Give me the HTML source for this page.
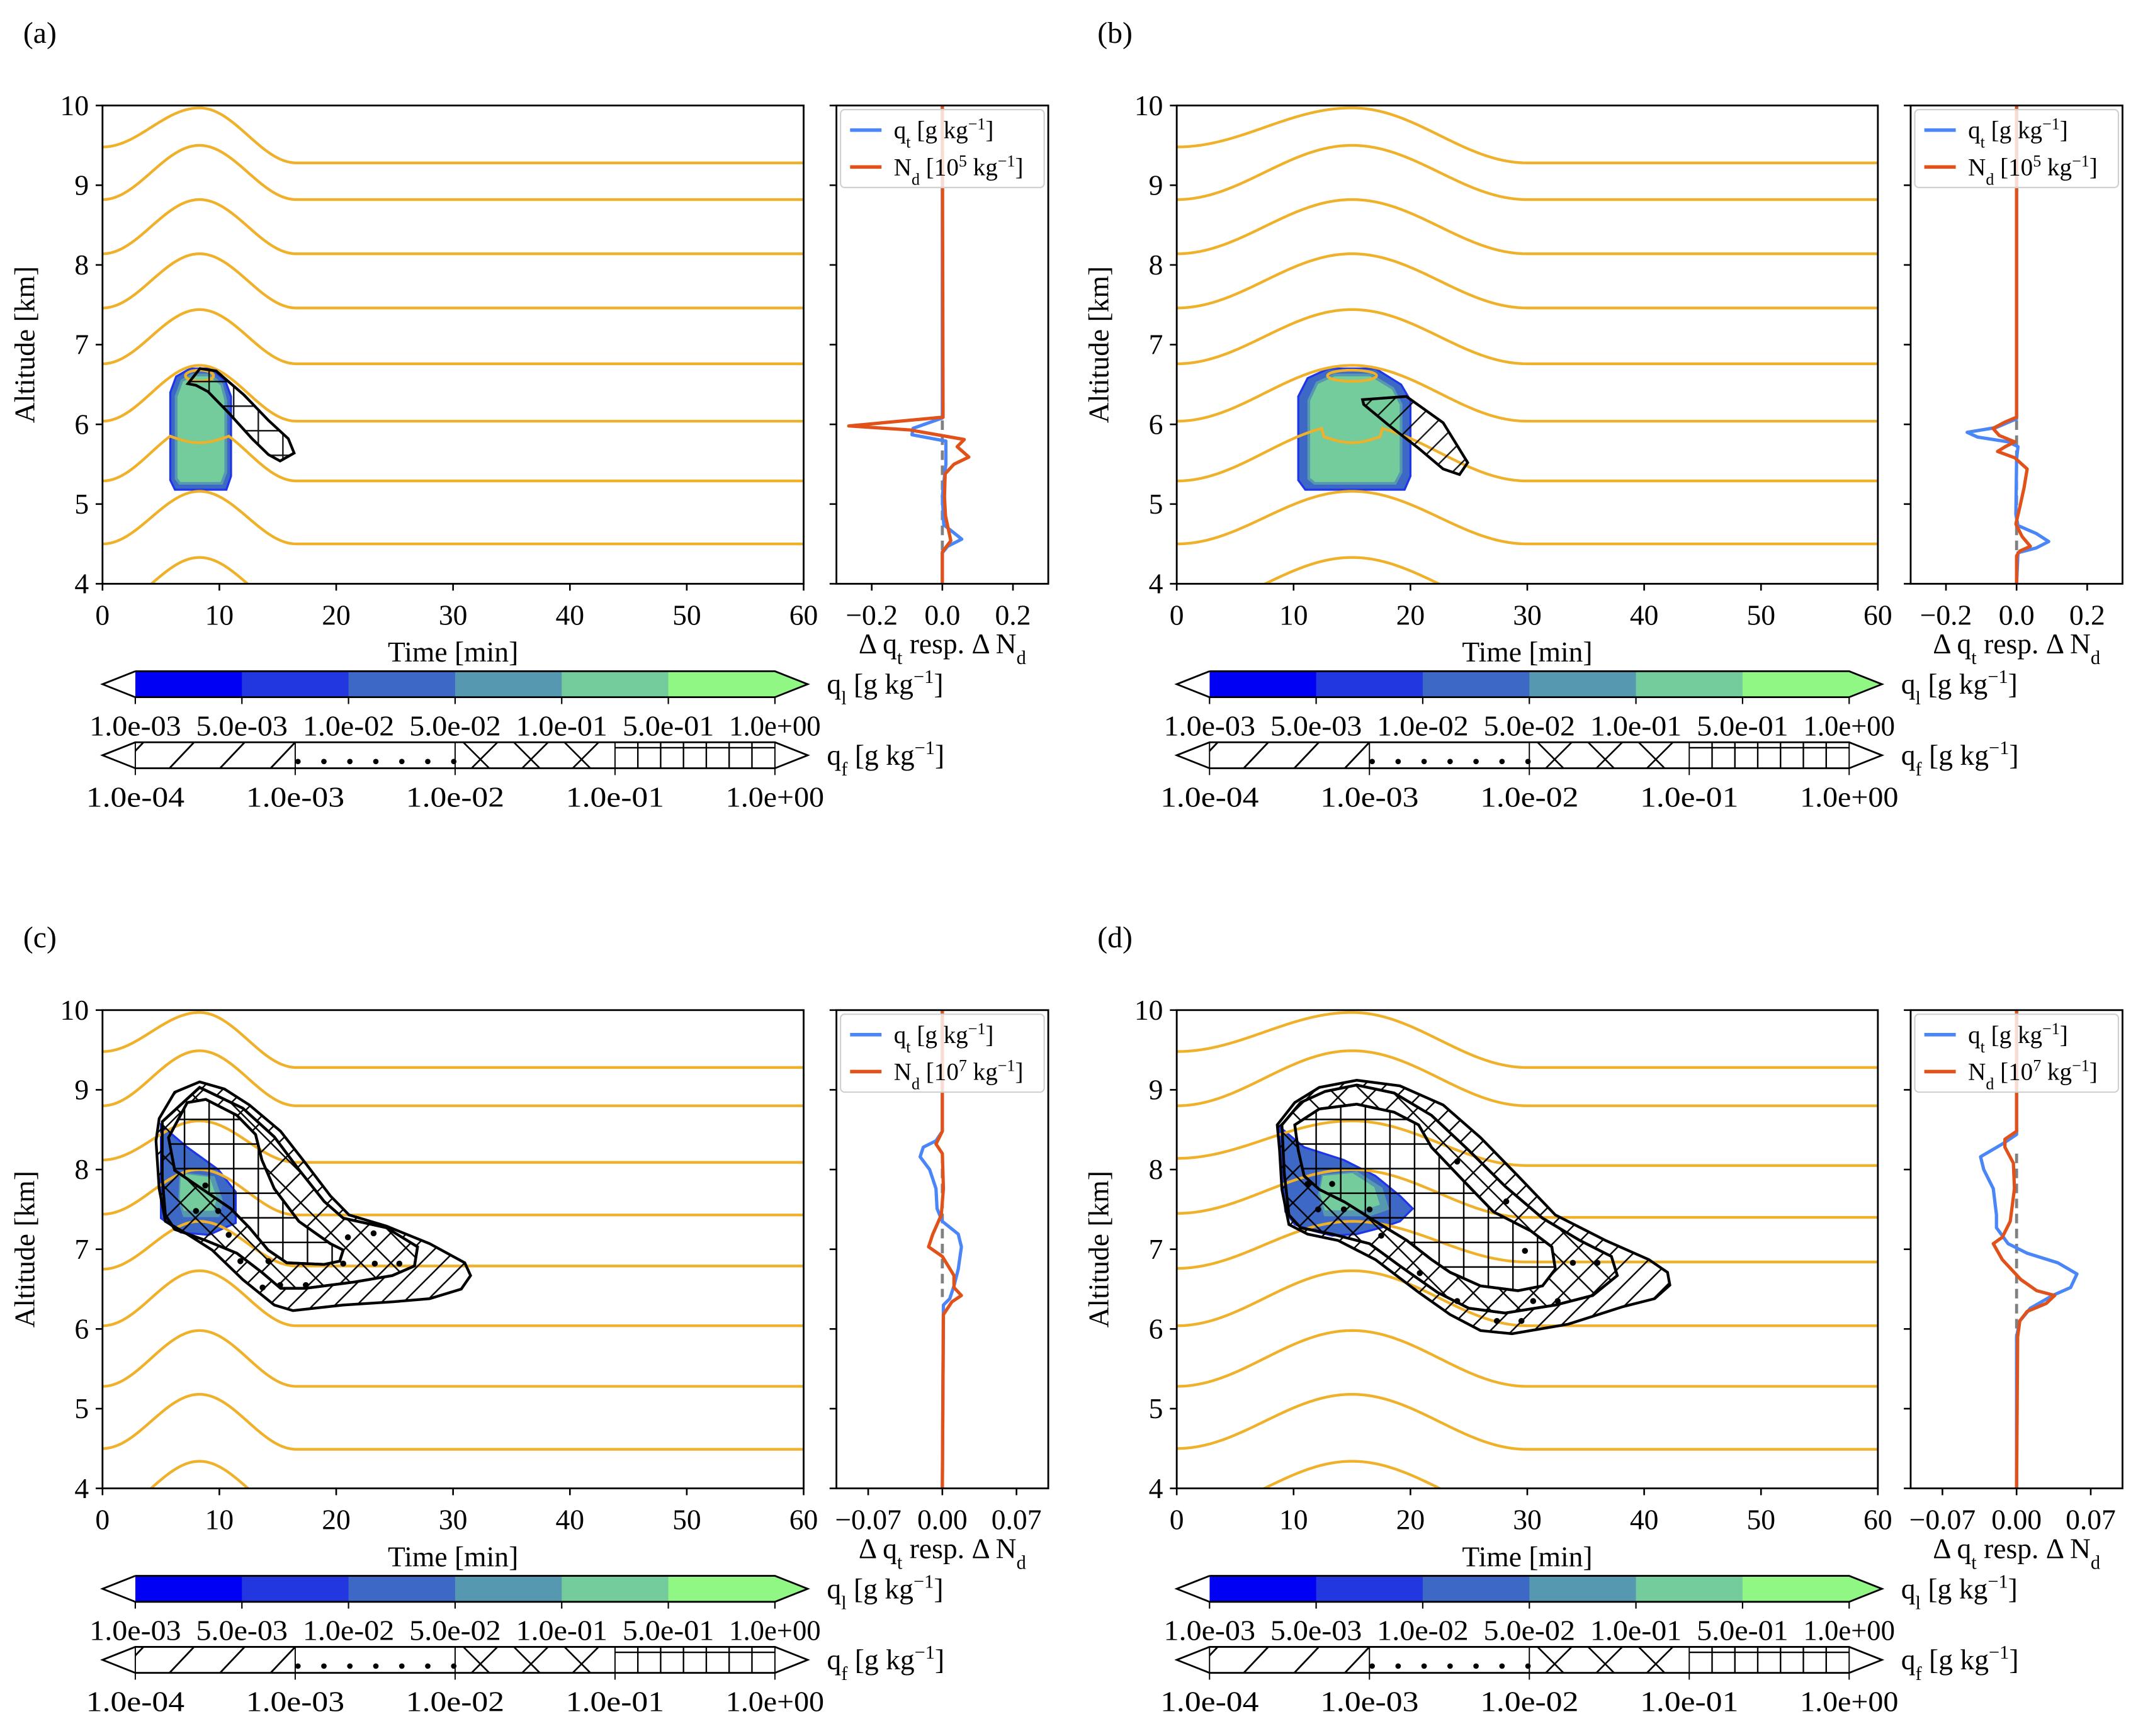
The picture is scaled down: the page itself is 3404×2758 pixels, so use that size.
<!DOCTYPE html>
<html><head><meta charset="utf-8"><style>
html,body{margin:0;padding:0;background:#fff;}
svg{display:block;}
text{font-family:"Liberation Serif","DejaVu Serif",serif;fill:#000;}
</style></head><body>
<svg id="fig" xmlns="http://www.w3.org/2000/svg" width="3404" height="2758" viewBox="0 0 1568 1270">
<defs>
<pattern id="pat-slash" patternUnits="userSpaceOnUse" width="16" height="16"><path d="M-4,4 L4,-4 M0,16 L16,0 M12,20 L20,12" stroke="#000" stroke-width="1.1"/></pattern>
<pattern id="pat-x" patternUnits="userSpaceOnUse" width="22" height="22"><path d="M0,0 L22,22 M0,22 L22,0" stroke="#000" stroke-width="1.1"/></pattern>
<pattern id="pat-plus" patternUnits="userSpaceOnUse" width="18" height="18"><path d="M9,0 L9,18 M0,9 L18,9" stroke="#000" stroke-width="1.1"/></pattern>
</defs>
</svg>
<script>
// ---------- data ----------
const panelIds = ['a','b','c','d'];
const panelOrigins = [[75,77],[861,77],[75,739],[861,739]];
const timeTicks = [0,10,20,30,40,50,60];
const altTicks = [4,5,6,7,8,9,10];
const bumpCenter = [8.3,15,8.3,15];
// streamlines (km): left base, right base, peak
const lineLeftA = [3.66,4.50,5.29,6.04,6.76,7.46,8.14,8.82,9.48];
const lineRightA = [3.66,4.50,5.29,6.04,6.76,7.46,8.14,8.82,9.28];
const linePeakA = [4.33,5.16,6.00,6.74,7.44,8.14,8.82,9.50,9.97];
const lineLeftB = [3.66,4.50,5.29,6.04,6.76,7.46,8.14,8.82,9.48];
const lineRightB = [3.66,4.50,5.29,6.04,6.76,7.46,8.14,8.82,9.28];
const linePeakB = [4.33,5.16,6.00,6.74,7.44,8.14,8.82,9.50,9.97];
const lineLeftC = [3.66,4.50,5.28,6.04,6.75,7.44,8.12,8.80,9.48];
const lineRightC = [3.66,4.49,5.28,6.04,6.79,7.43,8.09,8.80,9.28];
const linePeakC = [4.34,5.18,5.98,6.73,7.35,8.00,8.61,9.49,9.97];
const lineLeftD = [3.66,4.50,5.28,6.04,6.76,7.45,8.14,8.80,9.48];
const lineRightD = [3.66,4.49,5.28,6.04,6.84,7.40,8.05,8.80,9.28];
const linePeakD = [4.34,5.18,5.98,6.73,7.35,8.00,8.61,9.49,9.97];
// cloud (ql) shapes [t,z]
const cloudOuterA = [[5.8,5.3],[5.8,6.4],[6.3,6.6],[7.5,6.7],[9.3,6.7],[10.5,6.55],[11.0,6.35],[11.0,5.35],[10.6,5.18],[6.2,5.18]];
const cloudCoreA = [[6.3,5.32],[6.3,6.35],[6.8,6.55],[7.7,6.62],[9.2,6.62],[10.2,6.5],[10.55,6.3],[10.55,5.4],[10.2,5.26],[6.6,5.26]];
const cloudOuterB = [[10.4,5.3],[10.4,6.35],[11.2,6.58],[13,6.7],[17,6.7],[19.2,6.5],[20,6.3],[20,5.35],[19.5,5.18],[11,5.18]];
const cloudCoreB = [[11.3,5.32],[11.3,6.3],[12,6.52],[13.5,6.62],[16.6,6.62],[18.5,6.45],[19.2,6.25],[19.2,5.4],[18.7,5.26],[11.8,5.26]];
const cloudOuterC = [[5.0,8.56],[7.25,8.28],[9.9,8.0],[11.4,7.72],[11.4,7.33],[9.1,7.18],[6.7,7.21],[5.0,7.39]];
const cloudCoreC = [[6.7,7.95],[9.5,7.9],[10.2,7.6],[9.9,7.42],[7.0,7.42],[6.6,7.6]];
const cloudOuterD = [[8.76,8.54],[10.9,8.28],[14.3,8.12],[17.0,7.92],[19.1,7.67],[20.2,7.51],[19.1,7.35],[17.5,7.27],[15.4,7.19],[13.3,7.17],[11.7,7.23],[10.1,7.31],[9.3,7.47],[9.0,7.96]];
const cloudCoreD = [[12.5,7.92],[15.4,7.96],[17.5,7.76],[18.05,7.51],[16.5,7.43],[12.7,7.43],[12.2,7.68]];
// qf contours [t,z]
const iceA = [[7.31,6.51],[8.34,6.70],[9.72,6.67],[12.1,6.37],[14.2,6.05],[15.9,5.82],[16.4,5.64],[15.2,5.54],[14.2,5.62],[12.8,5.82],[10.76,6.15],[9.03,6.41],[8.0,6.49]];
const iceB = [[15.9,6.31],[19.65,6.35],[22.8,6.02],[24.9,5.52],[24.2,5.37],[22.8,5.44],[20.7,5.70],[18.05,6.0],[16.0,6.25]];
const iceOuterC = [[4.58,8.36],[4.85,8.64],[6.18,8.97],[8.31,9.10],[10.44,9.01],[12.57,8.81],[15.24,8.48],[17.37,8.08],[19.5,7.67],[21.1,7.43],[24.3,7.29],[28.0,7.07],[31.0,6.83],[31.5,6.67],[30.7,6.50],[28.0,6.38],[24.8,6.34],[20.6,6.30],[16.3,6.23],[14.7,6.30],[12.0,6.62],[9.38,6.99],[7.25,7.19],[5.38,7.35],[4.85,7.76]];
const iceMidC = [[5.11,8.6],[8.31,9.03],[12.0,8.77],[14.7,8.41],[16.8,8.0],[18.97,7.6],[20.6,7.39],[24.3,7.27],[26.96,7.03],[26.7,6.79],[24.8,6.67],[21.6,6.59],[17.37,6.51],[15.24,6.51],[13.64,6.71],[11.5,6.95],[8.84,7.11],[6.18,7.25],[5.38,7.43],[5.11,7.9]];
const iceInC = [[5.65,8.40],[7.25,8.84],[8.84,8.88],[11.5,8.68],[13.1,8.44],[13.64,8.12],[14.7,7.76],[16.8,7.35],[19.5,7.07],[20.6,6.99],[20.3,6.85],[18.97,6.81],[15.77,6.83],[14.17,6.99],[12.57,7.27],[10.97,7.51],[9.38,7.67],[7.78,7.83],[6.18,7.99]];
const iceOuterD = [[8.6,8.56],[10.1,8.84],[12.2,9.03],[15.4,9.12],[19.1,9.05],[22.8,8.81],[26.0,8.40],[29.2,7.92],[32.4,7.43],[36.7,7.11],[40.4,6.87],[42.0,6.71],[42.2,6.55],[40.9,6.38],[38.2,6.28],[33.5,6.06],[28.7,5.94],[26.0,5.98],[23.4,6.18],[20.7,6.46],[17.0,6.87],[13.8,7.11],[11.2,7.19],[9.6,7.31],[9.0,7.75],[8.8,8.24]];
const iceMidD = [[9.0,8.56],[10.6,8.84],[12.7,8.98],[15.4,9.06],[18.6,8.96],[21.8,8.68],[25.0,8.24],[28.1,7.79],[31.3,7.39],[34.5,7.11],[37.2,6.91],[37.7,6.67],[35.6,6.42],[32.4,6.30],[28.1,6.20],[25.0,6.26],[22.3,6.46],[19.1,6.79],[16.5,7.07],[13.3,7.19],[10.6,7.27],[9.6,7.43],[9.2,7.96]];
const iceInD = [[10.1,8.56],[12.2,8.76],[15.4,8.82],[18.6,8.72],[20.7,8.56],[21.8,8.28],[24.4,7.88],[27.1,7.47],[30.3,7.23],[32.1,7.03],[32.4,6.75],[31.3,6.54],[29.2,6.48],[26.0,6.54],[23.4,6.71],[21.8,6.87],[19.7,7.11],[17.0,7.35],[14.4,7.59],[12.2,7.75],[10.9,7.92],[10.4,8.24]];
const dotsC = [[8.8,7.8],[8.0,7.48],[9.9,7.48],[10.8,7.18],[11.8,6.85],[14.2,6.85],[21.0,7.15],[23.2,7.2],[23.3,6.82],[25.4,6.82],[15.2,6.55],[17.4,6.55],[13.7,6.52],[20.6,6.82]];
const dotsD = [[13.3,7.82],[11.2,7.82],[12.1,7.5],[14.3,7.5],[16.5,7.5],[17.5,7.17],[20.8,6.7],[24.0,6.35],[27.4,6.1],[29.5,6.1],[29.8,6.98],[28.2,7.6],[24.0,8.1],[30.5,6.35],[32.6,6.35],[33.9,6.83],[36.0,6.83]];
// side profiles: altitude (km) and values
const profZqtA = [10,6.08,5.95,5.87,5.79,5.5,5.1,4.74,4.56,4.47,4.39,4];
const profQtA =  [0,0,-0.083,-0.086,0.01,0.01,0,0.004,0.055,0.015,0,0];
const profZndA = [10,6.09,5.98,5.93,5.81,5.72,5.59,5.5,5.38,5.09,4.85,4.54,4.4,4];
const profNdA =  [0,0.002,-0.265,-0.092,0.062,0.042,0.075,0.033,0.008,0.006,0.009,0.024,0,0];
const profZqtB = [10,6.07,5.96,5.9,5.84,5.78,5.72,5.56,4.87,4.73,4.63,4.53,4.45,4.39,4];
const profQtB =  [0,0,-0.058,-0.14,-0.11,-0.023,0.004,0,-0.002,0.004,0.056,0.091,0.056,0.004,0];
const profZndB = [10,6.09,6.03,5.95,5.86,5.78,5.72,5.66,5.58,5.44,5.2,4.96,4.75,4.59,4.47,4.41,4.35,4];
const profNdB =  [0,0,-0.032,-0.067,-0.049,-0.005,-0.032,-0.054,-0.005,0.03,0.021,0.009,-0.002,0.016,0.039,0.009,0,0];
const profZqtC = [10,8.48,8.36,8.28,8.16,8.0,7.76,7.51,7.35,7.19,7.03,6.75,6.54,6.38,6.3,4];
const profQtC =  [0,0,-0.006,-0.018,-0.021,-0.012,-0.006,-0.005,0,0.015,0.018,0.015,0.011,0.007,0.001,0];
const profZndC = [10,8.48,8.32,8.2,7.76,7.43,7.19,7.03,6.91,6.67,6.52,6.42,6.34,6.18,4];
const profNdC =  [0,0,-0.006,0,0.001,-0.001,-0.009,-0.013,0,0.011,0.011,0.018,0.009,0.001,0];
const profZqtD = [10,8.44,8.32,8.16,8.0,7.76,7.43,7.27,7.07,6.95,6.83,6.69,6.52,6.42,6.26,6.1,5.9,4];
const profQtD =  [0,0,-0.0135,-0.034,-0.031,-0.022,-0.019,-0.019,-0.008,0.010,0.039,0.057,0.051,0.034,0.013,0.003,0,0];
const profZndD = [10,8.48,8.38,8.28,8.08,7.76,7.35,7.15,7.07,6.87,6.62,6.48,6.42,6.32,6.22,6.1,5.9,4];
const profNdD =  [0,0,-0.011,-0.011,-0.003,-0.002,-0.006,-0.0135,-0.022,-0.0135,0.004,0.019,0.036,0.028,0.010,0.003,0.001,0];
const dashRange = [[6.05,4.4],[6.05,4.4],[8.2,6.4],[8.2,5.85]];
const sideLimit = [0.3,0.3,0.1,0.1];
const sideTickVals = [[-0.2,0,0.2],[-0.2,0,0.2],[-0.07,0,0.07],[-0.07,0,0.07]];
const sideTickLabels = [["\u22120.2","0.0","0.2"],["\u22120.2","0.0","0.2"],["\u22120.07","0.00","0.07"],["\u22120.07","0.00","0.07"]];
const ndExponent = ['5','5','7','7'];
const qlColors = ['#0000f5','#2337e0','#3d68c6','#5598b0','#74cc9c','#90f684'];
const qlLabels = ['1.0e-03','5.0e-03','1.0e-02','5.0e-02','1.0e-01','5.0e-01','1.0e+00'];
const qfLabels = ['1.0e-04','1.0e-03','1.0e-02','1.0e-01','1.0e+00'];

const lineSets = [[lineLeftA,lineRightA,linePeakA],[lineLeftB,lineRightB,linePeakB],[lineLeftC,lineRightC,linePeakC],[lineLeftD,lineRightD,linePeakD]];
const clouds = [[cloudOuterA,cloudCoreA],[cloudOuterB,cloudCoreB],[cloudOuterC,cloudCoreC],[cloudOuterD,cloudCoreD]];
const profiles = [[profZqtA,profQtA,profZndA,profNdA],[profZqtB,profQtB,profZndB,profNdB],[profZqtC,profQtC,profZndC,profNdC],[profZqtD,profQtD,profZndD,profNdD]];

// ---------- drawing ----------
const NS='http://www.w3.org/2000/svg';
const svg=document.getElementById('fig');
function mk(tag,attrs,parent){const e=document.createElementNS(NS,tag);for(const k in attrs)e.setAttribute(k,attrs[k]);(parent||svg).appendChild(e);return e;}
const W=513,H=350,SW=155,SGAP=24,ORANGE='#efb02a',BLUE='#4a86f7',RED='#e0521a',FS=21;

function txt(x,y,s,anchor,parent,size){const t=mk('text',{x:x,y:y,'text-anchor':anchor||'middle','font-size':size||FS},parent);t.textContent=s;return t;}

function streamZ(t,lb,rb,pk,c){
  if(t<c) return lb+(pk-lb)*(1-Math.cos(Math.PI*t/c))/2;
  if(t<2*c) return rb+(pk-rb)*(1+Math.cos(Math.PI*(t-c)/c))/2;
  return rb;
}

panelIds.forEach((id,pi)=>{
  const [ox,oy]=panelOrigins[pi];
  const X=t=>ox+t/60*W, Y=z=>oy+(10-z)/6*H;
  const g=mk('g',{});
  
  
  const lab=txt(ox-58,oy-46,'('+id+')','start',g,22);
  
  
  mk('clipPath',{id:'clip-'+id},g).appendChild(document.createElementNS(NS,'rect'));
  const cr=g.querySelector('#clip-'+id+' rect');cr.setAttribute('x',ox);cr.setAttribute('y',oy);cr.setAttribute('width',W);cr.setAttribute('height',H);
  const plot=mk('g',{'clip-path':'url(#clip-'+id+')'},g);
  
  
  const poly=pts=>pts.map((p,i)=>(i?'L':'M')+X(p[0]).toFixed(2)+','+Y(p[1]).toFixed(2)).join('')+'Z';
  // cloud
  const [co,cc]=clouds[pi];
  const c1=mk('path',{d:poly(co),fill:'#3d68c6',stroke:'#1f35e8','stroke-width':1.5},plot);
  
  
  const c2=mk('path',{d:poly(cc),fill:(pi<2?'#74cc9c':'#5598b0'),stroke:'#5598b0','stroke-width':2},plot);
  
  
  if(pi>=2){const c3=mk('path',{d:poly(cc),fill:'#74cc9c'},plot);
    c3.setAttribute('transform',`translate(${X(cc[0][0])*0.12},${Y(cc[0][1])*0.12}) scale(0.88)`);
    
    }
  // streamlines
  const c=bumpCenter[pi];const [LL,LR,LP]=lineSets[pi];
  LL.forEach((lb,k)=>{
    let d='';
    for(let s=0;s<=300;s++){const t=s*60/300;let z=streamZ(t,lb,LR[k],LP[k],c);
      if(pi<2 && k===2){const t1=c-2.5,t2=c+2.5; if(t>t1&&t<t2){const zz=5.85-0.08*Math.sin(Math.PI*(t-t1)/(t2-t1)); z=Math.min(z,zz);} }
      z=Math.min(z,9.97);
      d+=(s?'L':'M')+X(t).toFixed(2)+','+Y(z).toFixed(2);}
    const p=mk('path',{d:d,fill:'none',stroke:ORANGE,'stroke-width':2},plot);
    
    
  });
  if(pi<2){const e=mk('ellipse',{cx:X(c),cy:Y(6.61),rx:(pi?2.1:1.2)*W/60,ry:0.07*H/6,fill:'none',stroke:ORANGE,'stroke-width':2},plot);
    
    }
  // ice contours
  if(pi<2){const pts=pi?iceB:iceA;
    const q=mk('path',{d:poly(pts),fill:pi?'url(#pat-slash)':'url(#pat-plus)','fill-opacity':0.9,stroke:'#000','stroke-width':2},plot);
    
    
  } else {
    const O=pi===2?iceOuterC:iceOuterD,M=pi===2?iceMidC:iceMidD,I=pi===2?iceInC:iceInD;
    const q1=mk('path',{d:poly(O)+poly(M),'fill-rule':'evenodd',fill:'url(#pat-slash)',stroke:'#000','stroke-width':2},plot);
    
    
    const q2=mk('path',{d:poly(M)+poly(I),'fill-rule':'evenodd',fill:'url(#pat-x)',stroke:'#000','stroke-width':2},plot);
    
    
    const q3=mk('path',{d:poly(I),fill:'url(#pat-plus)',stroke:'#000','stroke-width':2},plot);
    
    
    (pi===2?dotsC:dotsD).forEach(p=>{const d=mk('circle',{cx:X(p[0]),cy:Y(p[1]),r:2.2,fill:'#000'},plot);
      
      });
  }
  // axes frame + ticks
  const fr=mk('rect',{x:ox,y:oy,width:W,height:H,fill:'none',stroke:'#000','stroke-width':1.3},g);
  
  
  timeTicks.forEach(t=>{mk('line',{x1:X(t),x2:X(t),y1:oy+H,y2:oy+H+5,stroke:'#000','stroke-width':1.2},g);
    const l=txt(X(t),oy+H+30,String(t),'middle',g);
    
    });
  altTicks.forEach(z=>{mk('line',{x1:ox-5,x2:ox,y1:Y(z),y2:Y(z),stroke:'#000','stroke-width':1.2},g);
    const l=txt(ox-10,Y(z)+7,String(z),'end',g);
    
    });
  const xt=txt(ox+W/2,oy+H+57,'Time [min]','middle',g);
  
  
  const yt=txt(0,0,'Altitude [km]','middle',g);
  yt.setAttribute('transform',`translate(${ox-50},${oy+H/2}) rotate(-90)`);
  
  

  // side panel
  const sx=ox+W+SGAP, L=sideLimit[pi];
  const SX=v=>sx+(v+L)/(2*L)*SW;
  const sg=mk('g',{},g);
  
  
  const [zq,vq,zn,vn]=profiles[pi];
  const pline=(zs,vs)=>zs.map((z,i)=>(i?'L':'M')+SX(vs[i]).toFixed(2)+','+Y(z).toFixed(2)).join('');
  const dr=dashRange[pi];
  const dl=mk('line',{x1:SX(0),x2:SX(0),y1:Y(dr[0]),y2:Y(dr[1]),stroke:'#808080','stroke-width':2.2,'stroke-dasharray':'7,4'},sg);
  
  
  const pq=mk('path',{d:pline(zq,vq),fill:'none',stroke:BLUE,'stroke-width':2.4,'stroke-linejoin':'round'},sg);
  
  
  const pn=mk('path',{d:pline(zn,vn),fill:'none',stroke:RED,'stroke-width':2.4,'stroke-linejoin':'round'},sg);
  
  
  const sf=mk('rect',{x:sx,y:oy,width:SW,height:H,fill:'none',stroke:'#000','stroke-width':1.3},sg);
  
  
  altTicks.forEach(z=>mk('line',{x1:sx-5,x2:sx,y1:Y(z),y2:Y(z),stroke:'#000','stroke-width':1.2},sg));
  sideTickVals[pi].forEach((v,i)=>{mk('line',{x1:SX(v),x2:SX(v),y1:oy+H,y2:oy+H+5,stroke:'#000','stroke-width':1.2},sg);
    const l=txt(SX(v),oy+H+30,sideTickLabels[pi][i],'middle',sg);
    
    });
  const st=mk('text',{x:sx+SW/2,y:oy+H+51,'text-anchor':'middle','font-size':FS},sg);
  
  
  let a=mk('tspan',{},st);a.textContent='\u0394 q';
  a=mk('tspan',{'baseline-shift':'sub','font-size':14},st);a.textContent='t';
  a=mk('tspan',{},st);a.textContent=' resp. \u0394 N';
  a=mk('tspan',{'baseline-shift':'sub','font-size':14},st);a.textContent='d';
  // legend
  const lg=mk('g',{},sg);
  
  
  mk('rect',{x:sx+3,y:oy+3,width:SW-6,height:57,rx:3,fill:'#fff','fill-opacity':0.8,stroke:'#d0d0d0','stroke-width':1},lg);
  mk('line',{x1:sx+10,x2:sx+33,y1:oy+18,y2:oy+18,stroke:BLUE,'stroke-width':2.6},lg);
  mk('line',{x1:sx+10,x2:sx+33,y1:oy+45,y2:oy+45,stroke:RED,'stroke-width':2.6},lg);
  const t1=mk('text',{x:sx+42,y:oy+24,'font-size':18},lg);
  
  
  a=mk('tspan',{},t1);a.textContent='q';
  a=mk('tspan',{'baseline-shift':'sub','font-size':12},t1);a.textContent='t';
  a=mk('tspan',{},t1);a.textContent=' [g kg';
  a=mk('tspan',{'baseline-shift':'super','font-size':12},t1);a.textContent='\u22121';
  a=mk('tspan',{},t1);a.textContent=']';
  const t2=mk('text',{x:sx+42,y:oy+51,'font-size':18},lg);
  
  
  a=mk('tspan',{},t2);a.textContent='N';
  a=mk('tspan',{'baseline-shift':'sub','font-size':12},t2);a.textContent='d';
  a=mk('tspan',{},t2);a.textContent=' [10';
  a=mk('tspan',{'baseline-shift':'super','font-size':12},t2);a.textContent=ndExponent[pi];
  a=mk('tspan',{},t2);a.textContent=' kg';
  a=mk('tspan',{'baseline-shift':'super','font-size':12},t2);a.textContent='\u22121';
  a=mk('tspan',{},t2);a.textContent=']';

  // colorbars
  const bx=ox+24,bw=468,by=oy+414,bh=19,by2=oy+466;
  const cb=mk('g',{},g);
  
  
  const seg=bw/qlColors.length;
  qlColors.forEach((col,i)=>mk('rect',{x:bx+i*seg,y:by,width:seg+0.5,height:bh,fill:col},cb));
  mk('path',{d:`M${bx},${by} L${bx-24},${by+bh/2} L${bx},${by+bh}`,fill:'#fff',stroke:'#000','stroke-width':1.3},cb);
  mk('path',{d:`M${bx+bw},${by} L${bx+bw+24},${by+bh/2} L${bx+bw},${by+bh}Z`,fill:qlColors[5],stroke:'none'},cb);
  mk('path',{d:`M${bx},${by} L${bx+bw},${by} L${bx+bw+24},${by+bh/2} L${bx+bw},${by+bh} L${bx},${by+bh}`,fill:'none',stroke:'#000','stroke-width':1.3},cb);
  qlLabels.forEach((s,i)=>{const x=bx+i*seg;mk('line',{x1:x,x2:x,y1:by+bh,y2:by+bh+5,stroke:'#000','stroke-width':1},cb);
    const l=mk('text',{x:x,y:by+bh+28,'text-anchor':'middle','font-size':FS,textLength:67,lengthAdjust:'spacingAndGlyphs'},cb);l.textContent=s;
    
    });
  const ql=mk('text',{x:bx+bw+38,y:by+bh/2+7,'font-size':FS},cb);
  
  
  a=mk('tspan',{},ql);a.textContent='q';a=mk('tspan',{'baseline-shift':'sub','font-size':14},ql);a.textContent='l';
  a=mk('tspan',{},ql);a.textContent=' [g kg';a=mk('tspan',{'baseline-shift':'super','font-size':14},ql);a.textContent='\u22121';a=mk('tspan',{},ql);a.textContent=']';

  const fb=mk('g',{},g);
  
  
  const s4=bw/4;let hd='';
  [bx-12,bx+25,bx+62,bx+99].forEach(x=>{hd+=`M${x},${by2+bh}L${x+18},${by2}`;});
  const clip1='cbclip-'+id;
  const cpe=mk('clipPath',{id:clip1},fb);mk('rect',{x:bx,y:by2,width:s4,height:bh},cpe);
  mk('path',{d:hd,stroke:'#000','stroke-width':1.3,fill:'none','clip-path':`url(#${clip1})`},fb);
  for(let k=0;k<7;k++)mk('circle',{cx:bx+s4+2+k*19,cy:by2+bh*0.74,r:2,fill:'#000'},fb);
  for(let k=0;k<3;k++){const x=bx+2*s4+6+k*37;mk('path',{d:`M${x},${by2}L${x+19},${by2+bh}M${x+25},${by2}L${x+6},${by2+bh}`,stroke:'#000','stroke-width':1.2,fill:'none'},fb);}
  let vd=`M${bx+3*s4},${by2+4}L${bx+4*s4},${by2+4}`;
  for(let k=1;k<7;k++)vd+=`M${bx+3*s4+k*16.7},${by2}L${bx+3*s4+k*16.7},${by2+bh}`;
  mk('path',{d:vd,stroke:'#000','stroke-width':1.1,fill:'none'},fb);
  mk('path',{d:`M${bx},${by2} L${bx+bw},${by2} L${bx+bw+24},${by2+bh/2} L${bx+bw},${by2+bh} L${bx},${by2+bh} L${bx-24},${by2+bh/2}Z`,fill:'none',stroke:'#000','stroke-width':1.3},fb);
  for(let k=0;k<=4;k++)mk('line',{x1:bx+k*s4,x2:bx+k*s4,y1:by2,y2:by2+bh+5,stroke:'#000','stroke-width':0.9},fb);
  qfLabels.forEach((s,i)=>{const l=mk('text',{x:bx+i*s4,y:by2+bh+28,'text-anchor':'middle','font-size':FS,textLength:72,lengthAdjust:'spacingAndGlyphs'},fb);l.textContent=s;
    
    });
  const qf=mk('text',{x:bx+bw+38,y:by2+bh/2+7,'font-size':FS},fb);
  
  
  a=mk('tspan',{},qf);a.textContent='q';a=mk('tspan',{'baseline-shift':'sub','font-size':14},qf);a.textContent='f';
  a=mk('tspan',{},qf);a.textContent=' [g kg';a=mk('tspan',{'baseline-shift':'super','font-size':14},qf);a.textContent='\u22121';a=mk('tspan',{},qf);a.textContent=']';
});
</script>
</body></html>
